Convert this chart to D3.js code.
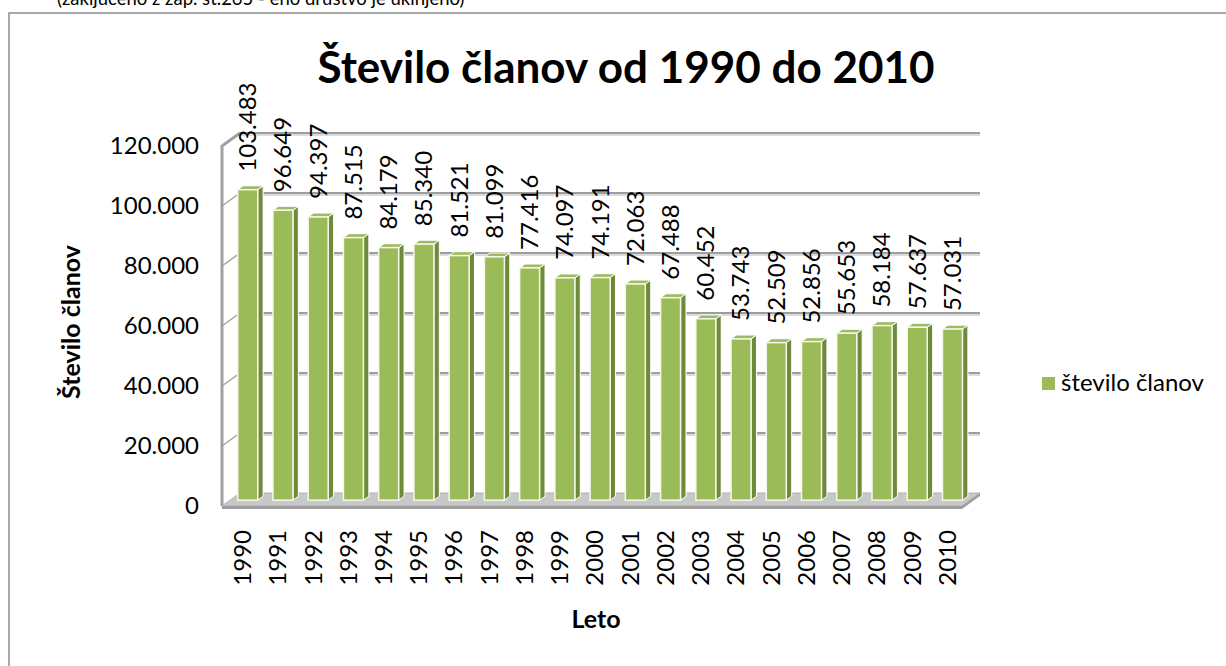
<!DOCTYPE html>
<html>
<head>
<meta charset="utf-8">
<script src="https://cdn.jsdelivr.net/npm/d3@7"></script>
<style>
  body { margin: 0; background: #fff; overflow: hidden; }
  svg { display: block; font-family: Lato, "Open Sans", sans-serif; }
</style>
</head>
<body>
<svg width="1226" height="666"></svg>
<script>
// data
const years = ["1990","1991","1992","1993","1994","1995","1996","1997","1998","1999","2000",
  "2001","2002","2003","2004","2005","2006","2007","2008","2009","2010"];
const members = [103483, 96649, 94397, 87515, 84179, 85340, 81521, 81099, 77416, 74097, 74191,
  72063, 67488, 60452, 53743, 52509, 52856, 55653, 58184, 57637, 57031];
const yTicks = [0, 20000, 40000, 60000, 80000, 100000, 120000];
const seriesName = "število članov";

const svg = d3.select("svg");
const loc = d3.formatLocale({ decimal: ",", thousands: ".", grouping: [3], currency: ["", "€"] });
const fmt = loc.format(",d");

// 3d box: front floor edge and depth offset
const x0 = 222, x1 = 962, floorY = 506;
const depthX = 18, depthY = -13;

const xScale = d3.scaleBand().domain(years).range([x0, x1]);
const hScale = d3.scaleLinear().domain([0, 120000]).range([0, 360]);
const yFront = d3.scaleLinear().domain([0, 120000]).range([floorY, floorY - 360]);

// point in the box: x on front, value, depth 0..1
function pt(x, v, d) {
  return [x + depthX * d, floorY - hScale(v) + depthY * d];
}

// chart border + note above it (cut by the top edge, as in the original)
svg.append("text")
  .attr("x", 57).attr("y", 5)
  .style("font-size", "18.5px").attr("fill", "#000")
  .text("(zaključeno z zap. št.265 - eno društvo je ukinjeno)");
svg.append("rect")
  .attr("x", 9).attr("y", 13).attr("width", 1300).attr("height", 700)
  .attr("fill", "none").attr("stroke", "#8c8c8c").attr("stroke-width", 1.5);

// back wall gridlines
const grid = svg.append("g");
yTicks.filter(v => v > 0).forEach(v => {
  const a = pt(x0, v, 1), b = pt(x1, v, 1);
  grid.append("line").attr("x1", a[0]).attr("y1", a[1] + 2).attr("x2", b[0]).attr("y2", b[1] + 2)
    .attr("stroke", "#dcdcdc").attr("stroke-width", 2);
  grid.append("line").attr("x1", a[0]).attr("y1", a[1]).attr("x2", b[0]).attr("y2", b[1])
    .attr("stroke", "#9d9d9d").attr("stroke-width", 2);
  // on the left wall
  const c = pt(x0, v, 0);
  grid.append("line").attr("x1", c[0]).attr("y1", c[1]).attr("x2", a[0]).attr("y2", a[1])
    .attr("stroke", "#a3a3a3").attr("stroke-width", 1.5);
});

// left wall edge
const wallTop = pt(x0, 120000, 0), wallBack = pt(x0, 120000, 1);
svg.append("path")
  .attr("d", `M${x0},${floorY}L${wallTop[0]},${wallTop[1]}L${wallBack[0]},${wallBack[1]}`)
  .attr("fill", "none").attr("stroke", "#a0a0a0").attr("stroke-width", 3);

// floor
const f = [pt(x0, 0, 0), pt(x1, 0, 0), pt(x1, 0, 1), pt(x0, 0, 1)];
svg.append("path").attr("d", "M" + f.join("L") + "Z").attr("fill", "#c8c8c8").attr("stroke", "#b0b0b0");
svg.append("path")
  .attr("d", `M${f[0]}L${f[1]}L${f[2]}L${f[2][0]},${f[2][1] + 3}L${f[1][0]},${f[1][1] + 3}L${f[0][0]},${f[0][1] + 3}Z`)
  .attr("fill", "#9e9e9e");

// bars
const barW = 20, dFront = 0.45, dBack = 0.75;
const bars = svg.append("g");
years.forEach((yr, i) => {
  const cx = xScale(yr) + xScale.bandwidth() / 2;
  const v = members[i];
  const fb = pt(cx - barW / 2, 0, dFront), ft = pt(cx - barW / 2, v, dFront);
  const sx = (dBack - dFront) * depthX, sy = (dBack - dFront) * depthY;
  const L = ft[0], R = ft[0] + barW, T = ft[1], B = fb[1];
  bars.append("path")
    .attr("d", `M${R},${T}L${R + sx},${T + sy}L${R + sx},${B + sy}L${R},${B}Z`)
    .attr("fill", "#6f8a3a").attr("stroke", "#fff").attr("stroke-width", 1);
  bars.append("path")
    .attr("d", `M${L},${T}L${L + sx},${T + sy}L${R + sx},${T + sy}L${R},${T}Z`)
    .attr("fill", "#9fbb62").attr("stroke", "#fff").attr("stroke-width", 1);
  bars.append("rect")
    .attr("x", L).attr("y", T).attr("width", barW).attr("height", B - T)
    .attr("fill", "#9bbb59").attr("stroke", "#f4f8ec").attr("stroke-width", 1.5);
  // value label
  svg.append("text")
    .attr("transform", `translate(${L + barW / 2},${T - 18}) rotate(-90)`)
    .attr("dy", "0.35em")
    .style("font-size", "24px")
    .text(fmt(v));
});

// y axis labels on the front plane
const yAxis = svg.append("g")
  .attr("transform", "translate(199,0)")
  .call(d3.axisLeft(yFront).tickValues(yTicks).tickFormat(fmt).tickSize(0).tickPadding(0));
yAxis.select(".domain").remove();
yAxis.selectAll("text").style("font-size", "24px").style("font-family", "Lato").attr("fill", "#000");

// category labels
years.forEach(yr => {
  const cx = xScale(yr) + xScale.bandwidth() / 2 + 3;
  svg.append("text")
    .attr("transform", `translate(${cx},530) rotate(-90)`)
    .attr("text-anchor", "end").attr("dy", "0.35em")
    .style("font-size", "24px")
    .text(yr);
});

// titles
svg.append("text")
  .attr("x", 626).attr("y", 83).attr("text-anchor", "middle")
  .style("font-size", "44px").style("font-weight", "bold")
  .text("Število članov od 1990 do 2010");
svg.append("text")
  .attr("transform", "translate(71,322) rotate(-90)")
  .attr("text-anchor", "middle").attr("dy", "0.35em")
  .style("font-size", "25px").style("font-weight", "bold")
  .text("Število članov");
svg.append("text")
  .attr("x", 596).attr("y", 628).attr("text-anchor", "middle")
  .style("font-size", "25px").style("font-weight", "bold")
  .text("Leto");

// legend
svg.append("rect").attr("x", 1042).attr("y", 377).attr("width", 13).attr("height", 13).attr("fill", "#9bbb59");
svg.append("text").attr("x", 1061).attr("y", 391).style("font-size", "24px").text(seriesName);
</script>
</body>
</html>
